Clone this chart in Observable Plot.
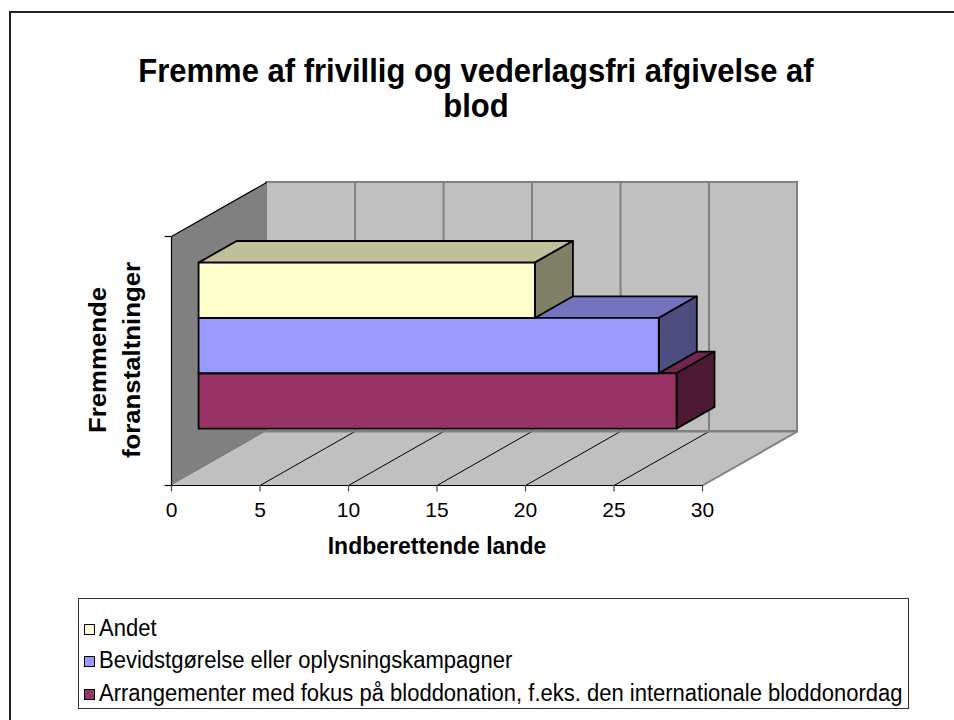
<!DOCTYPE html>
<html>
<head>
<meta charset="utf-8">
<script src="https://cdn.jsdelivr.net/npm/d3@7"></script>
<script src="https://cdn.jsdelivr.net/npm/@observablehq/plot@0.6"></script>
<style>
  html, body { margin: 0; padding: 0; background: #fff; overflow: hidden; }
  #wrap { position: relative; width: 954px; height: 720px; overflow: hidden; background: #fff;
          font-family: Arial, "Liberation Sans", sans-serif; color: #000; }
  #frame { position: absolute; left: 9px; top: 11px; width: 1200px; height: 1000px;
           border-left: 2px solid #222; border-top: 2px solid #222; }
  #chart { position: absolute; left: 0; top: 0; }
  .title { position: absolute; left: 0; width: 952px; text-align: center;
           font-weight: bold; font-size: 31px; line-height: 30px; white-space: nowrap;
           transform: scaleY(1.1); transform-origin: 50% 0; }
  #title1 { top: 54px; }
  #title2 { top: 89px; }
  #ylabel { position: absolute; left: 115px; top: 360px; width: 260px; text-align: center;
            font-weight: bold; font-size: 23px; line-height: 34px;
            transform: translate(-50%, -50%) rotate(-90deg) scaleX(1.12); white-space: nowrap; }
  #xlabel { position: absolute; left: 437px; top: 546px; transform: translate(-50%, -50%) scaleY(1.08);
            font-weight: bold; font-size: 23px; white-space: nowrap; }
  #legend { position: absolute; left: 78px; top: 598px; width: 831px; height: 111px;
            border: 1px solid #333; box-sizing: border-box; }
  .item { position: absolute; left: 5px; font-size: 22px; white-space: nowrap; display: flex; align-items: center; }
  .txt { display: inline-block; transform: scaleY(1.05); }
  .sw { width: 9px; height: 9px; border: 1.5px solid #000; margin-right: 4px; }
</style>
</head>
<body>
<div id="wrap">
  <div id="frame"></div>
  <div id="chart"></div>
  <div class="title" id="title1">Fremme af frivillig og vederlagsfri afgivelse af</div>
  <div class="title" id="title2">blod</div>
  <div id="ylabel">Fremmende<br>foranstaltninger</div>
  <div id="xlabel">Indberettende lande</div>
  <div id="legend"></div>
</div>
<script>
// ---- data ----
const series = [
  "Andet",
  "Bevidstgørelse eller oplysningskampagner",
  "Arrangementer med fokus på bloddonation, f.eks. den internationale bloddonordag"
];
const values = [19, 26, 27];
const frontColors = ["#FFFFCC", "#9999FF", "#993366"];
const topColors   = ["#BFBF99", "#7373BF", "#73264D"];
const sideColors  = ["#808066", "#4D4D80", "#4D1A33"];
const xTicks = [0, 5, 10, 15, 20, 25, 30];

// ---- 3D projection (oblique) ----
const XMAX = 30;
const DX = 5.37;   // full depth offset, in value units
const DY = 0.217;  // full depth offset, in wall-height units
const F0 = 0.285, F1 = 0.685; // bar depth extent (fraction of depth)

// vertical band for the bars (gap width 150%)
const band = d3.scaleBand().domain(series).range([1, 0]).paddingInner(0).paddingOuter(0.75);
const bh = band.bandwidth();

function P(x, y, f) { return {x: x + f * DX, y: y + f * DY}; }

const marks = [];
// left wall
marks.push(Plot.line([P(0,0,0), P(0,0,1), P(0,1,1), P(0,1,0)],
  {x: "x", y: "y", fill: "#808080", stroke: "none", curve: "linear-closed"}));
// back wall
marks.push(Plot.rect([0], {x1: DX, x2: XMAX + DX, y1: DY, y2: 1 + DY,
  fill: "#C0C0C0", stroke: "#808080", strokeWidth: 2, inset: 0}));
marks.push(Plot.ruleX(xTicks.slice(1, -1), {x: d => d + DX, y1: DY, y2: 1 + DY, stroke: "#808080", strokeWidth: 2}));
// floor
marks.push(Plot.line([P(0,0,0), P(XMAX,0,0), P(XMAX,0,1), P(0,0,1)],
  {x: "x", y: "y", fill: "#C0C0C0", stroke: "none", curve: "linear-closed"}));
marks.push(Plot.link(xTicks.slice(1, -1), {x1: d => d, y1: 0, x2: d => d + DX, y2: DY, stroke: "#000", strokeWidth: 1}));
marks.push(Plot.link([XMAX], {x1: d => d, y1: 0, x2: d => d + DX, y2: DY, stroke: "#808080", strokeWidth: 2}));
marks.push(Plot.link([0], {x1: 0, y1: DY, x2: XMAX + DX, y2: DY, stroke: "#808080", strokeWidth: 2}));
// wall top edge
marks.push(Plot.link([1], {x1: 0, y1: d => d, x2: DX, y2: d => d + DY, stroke: "#000", strokeWidth: 1.2}));
// axes
marks.push(Plot.link([0], {x1: 0, y1: 0, x2: XMAX, y2: 0, stroke: "#000", strokeWidth: 1.2}));
marks.push(Plot.link([0], {x1: 0, y1: 0, x2: 0, y2: 1, stroke: "#000", strokeWidth: 1.2}));
marks.push(Plot.ruleX(xTicks, {x: d => d, y1: 0, y2: -0.026, stroke: "#444", strokeWidth: 1.2}));
marks.push(Plot.ruleY([0, 1], {y: d => d, x1: 0, x2: -0.36, stroke: "#000", strokeWidth: 1.2}));
marks.push(Plot.text(xTicks, {x: d => d, y: 0, dy: 25, text: d => String(d), fontSize: 21,
  fontFamily: "Arial, 'Liberation Sans', sans-serif", fill: "#000"}));

// bars: draw bottom first
const order = [2, 1, 0];
for (const i of order) {
  const v = values[i];
  const y0 = band(series[i]);
  const y1 = y0 + bh;
  const style = {x: "x", y: "y", stroke: "#000", strokeWidth: 1.8, strokeLinejoin: "round", curve: "linear-closed"};
  // top
  marks.push(Plot.line([P(0,y1,F0), P(v,y1,F0), P(v,y1,F1), P(0,y1,F1)], {...style, fill: topColors[i]}));
  // side
  marks.push(Plot.line([P(v,y0,F0), P(v,y0,F1), P(v,y1,F1), P(v,y1,F0)], {...style, fill: sideColors[i]}));
  // front
  marks.push(Plot.line([P(0,y0,F0), P(v,y0,F0), P(v,y1,F0), P(0,y1,F0)], {...style, fill: frontColors[i]}));
}

const chart = Plot.plot({
  width: 954,
  height: 720,
  margin: 0,
  x: {domain: [0, XMAX], range: [171, 702], axis: null},
  y: {domain: [0, 1], range: [485, 236], axis: null},
  style: {background: "transparent", overflow: "visible"},
  marks
});
document.getElementById("chart").appendChild(chart);

// legend
const legend = document.getElementById("legend");
const rowsY = [30, 62, 95];
series.forEach((s, i) => {
  const el = document.createElement("div");
  el.className = "item";
  el.style.top = (rowsY[i] - 13) + "px";
  el.style.height = "26px";
  const sw = document.createElement("span");
  sw.className = "sw";
  sw.style.background = frontColors[i];
  const tx = document.createElement("span");
  tx.className = "txt";
  tx.textContent = s;
  el.appendChild(sw);
  el.appendChild(tx);
  legend.appendChild(el);
});
</script>
</body>
</html>
